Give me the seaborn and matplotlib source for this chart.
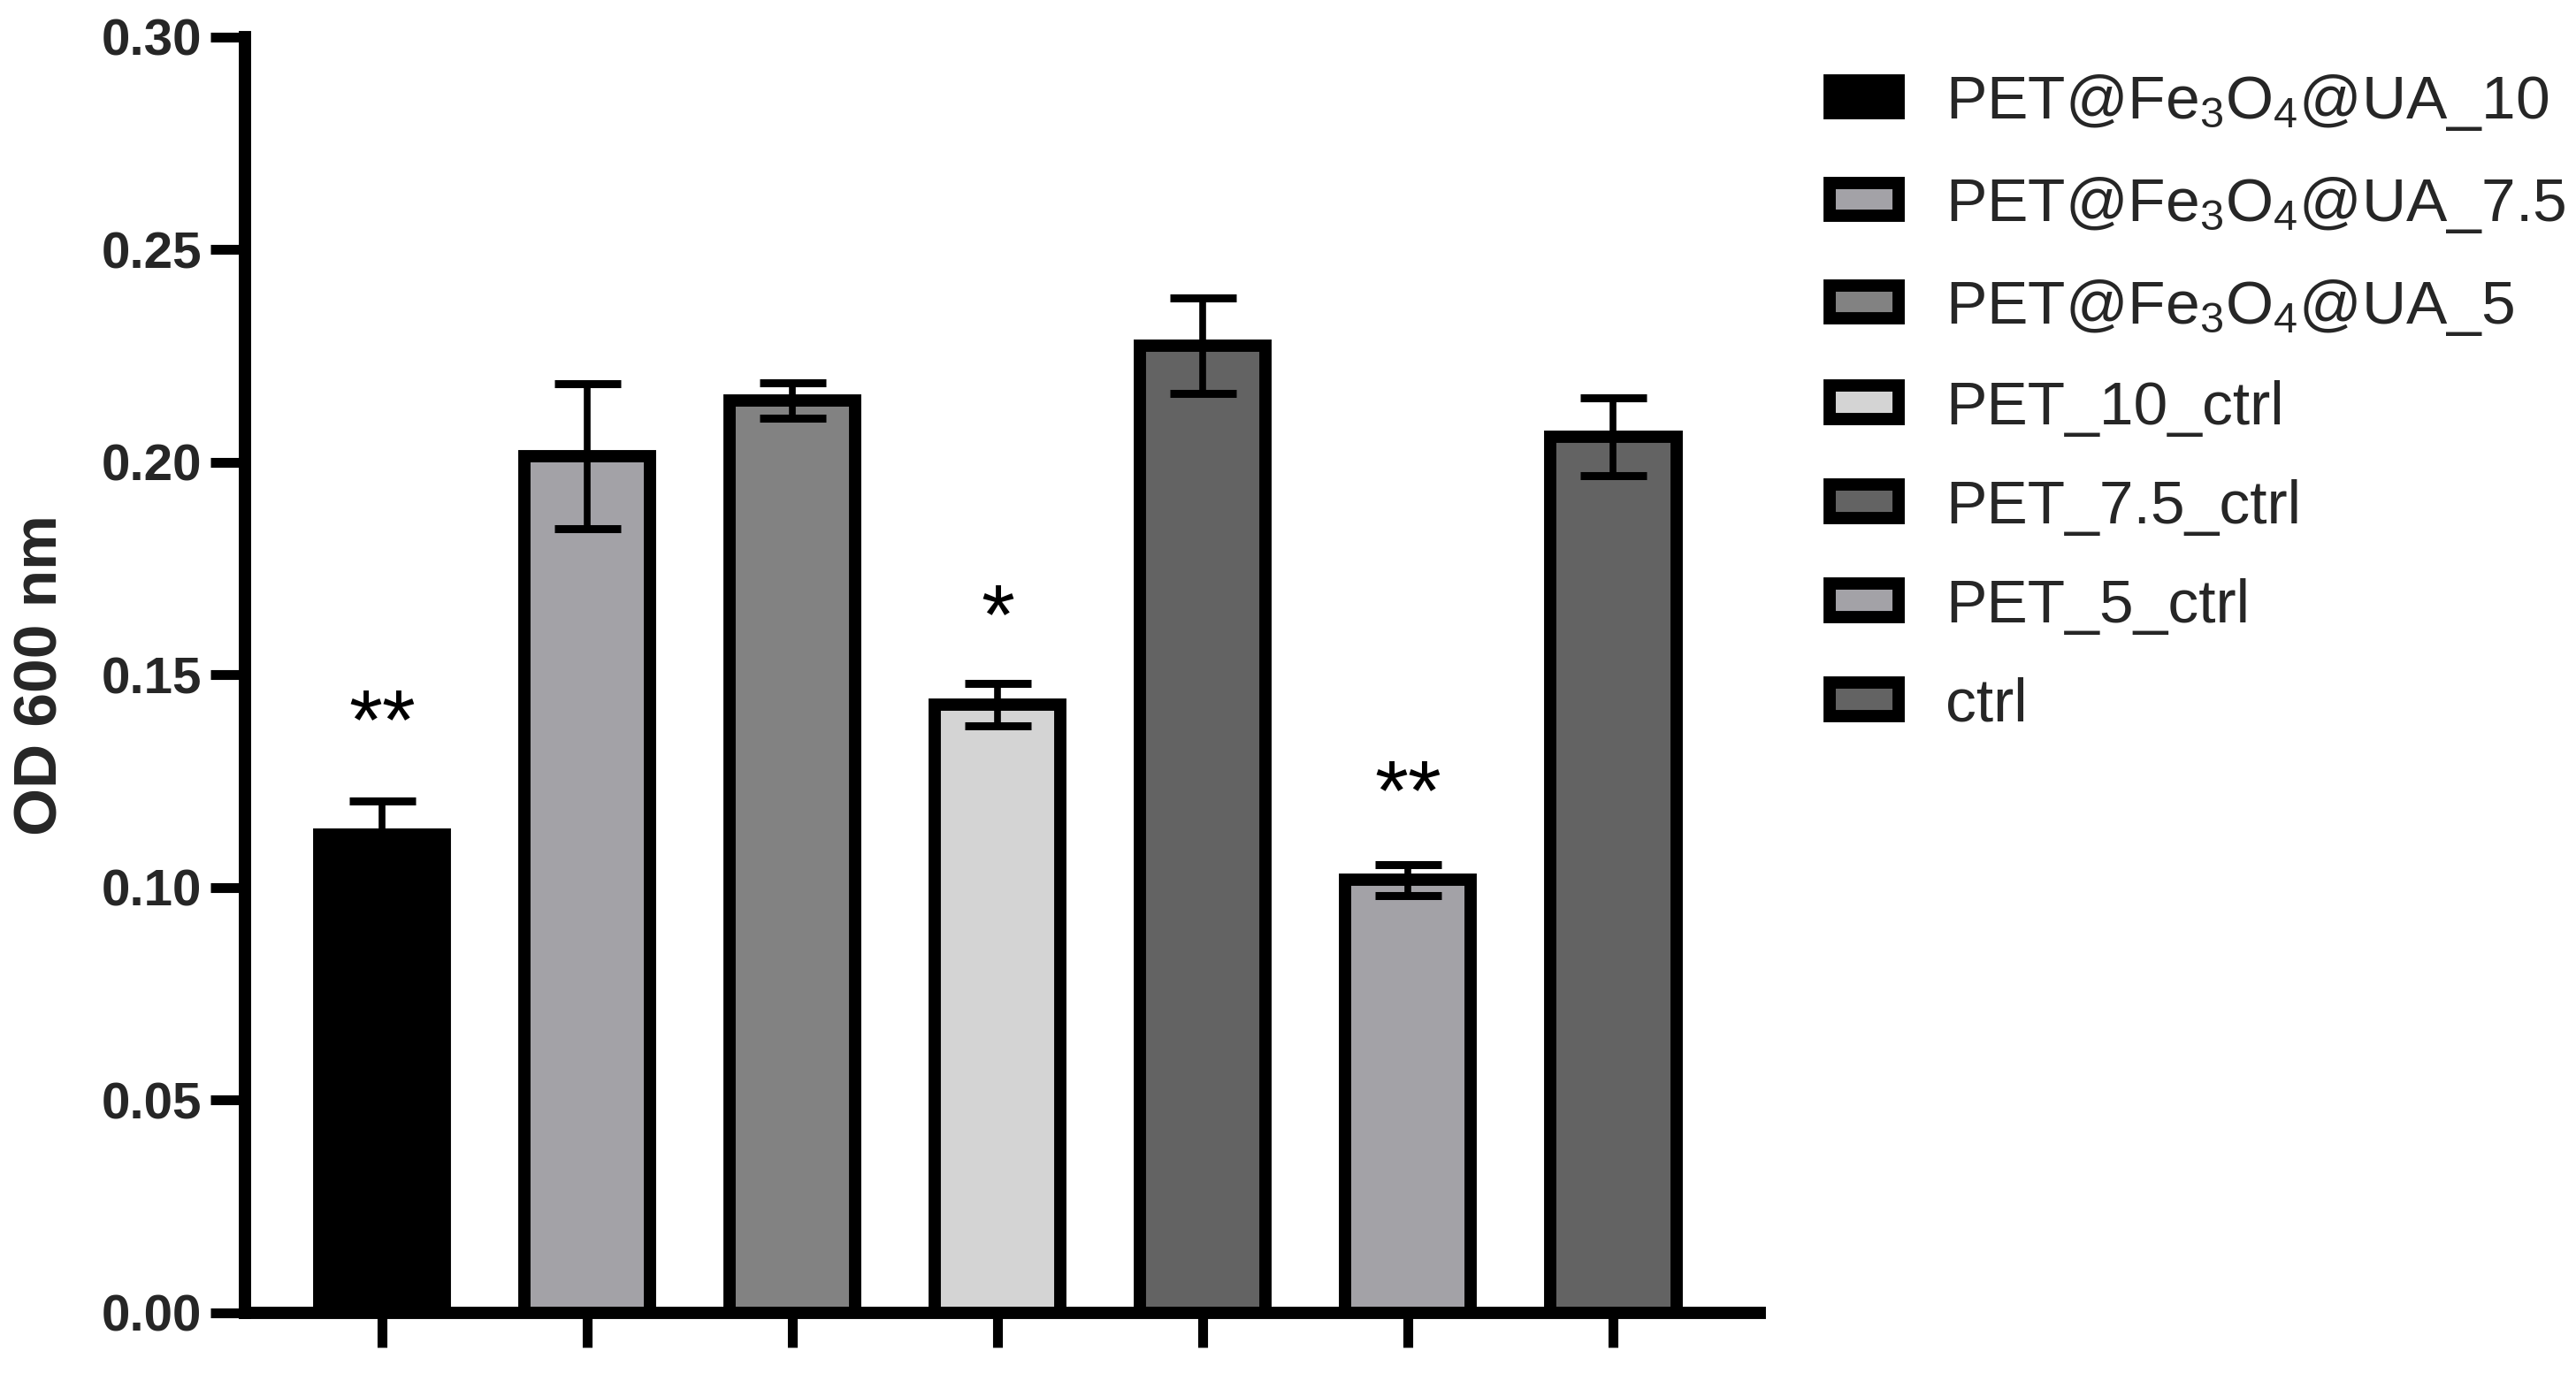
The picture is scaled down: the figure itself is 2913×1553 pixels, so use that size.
import matplotlib
matplotlib.use('Agg')
import matplotlib.pyplot as plt
import pandas as pd
import seaborn as sns

groups = ['PET@Fe$_3$O$_4$@UA_10', 'PET@Fe$_3$O$_4$@UA_7.5', 'PET@Fe$_3$O$_4$@UA_5',
          'PET_10_ctrl', 'PET_7.5_ctrl', 'PET_5_ctrl', 'ctrl']
od_mean = [0.1125, 0.2015, 0.2145, 0.1430, 0.2275, 0.1018, 0.2060]
od_err = [0.0078, 0.0170, 0.0042, 0.0050, 0.0112, 0.0036, 0.0092]
bar_colors = ['#000000', '#A3A2A7', '#828282', '#D4D4D4', '#636363', '#A3A2A7', '#636363']
stars = ['**', '', '', '*', '', '**', '']
star_y = [0.1436, None, None, 0.1684, None, 0.1269, None]
y_ticks = [0.00, 0.05, 0.10, 0.15, 0.20, 0.25, 0.30]

sns.set_theme(style='ticks')
plt.rcParams['font.family'] = ['Liberation Sans', 'DejaVu Sans']
plt.rcParams['mathtext.fontset'] = 'custom'
plt.rcParams['mathtext.rm'] = 'Liberation Sans'
plt.rcParams['mathtext.it'] = 'Liberation Sans:italic'
plt.rcParams['mathtext.bf'] = 'Liberation Sans:bold'

df = pd.DataFrame({'group': groups, 'od': od_mean})

fig = plt.figure(figsize=(29.13, 15.53), dpi=100)
ax = fig.add_axes([0.0951, 0.0438, 0.5881, 0.9292])

sns.barplot(data=df, x='group', y='od', hue='group', order=groups, hue_order=groups,
            palette=dict(zip(groups, bar_colors)), saturation=1, width=0.616,
            edgecolor='black', linewidth=10, errorbar=None, legend=False, ax=ax)

ax.errorbar(range(len(groups)), od_mean, yerr=od_err, fmt='none', ecolor='black',
            elinewidth=5.5, capsize=27, capthick=6.5, zorder=4)

for i, (s, y) in enumerate(zip(stars, star_y)):
    if s:
        ax.annotate(s, (i, y), xytext=(0, -38), textcoords='offset points',
                    ha='center', va='baseline', fontsize=70, color='black')

ax.set_xlim(-0.668, 6.716)
ax.set_ylim(0, 0.30)
ax.set_yticks(y_ticks)
ax.set_yticklabels(['{:.2f}'.format(t) for t in y_ticks], fontsize=42, fontweight='bold')
ax.set_xticks(range(len(groups)))
ax.set_xticklabels([])
ax.set_xlabel('')
ax.set_ylabel('OD 600 nm', fontsize=50, fontweight='bold')
ax.yaxis.set_label_coords(-0.116, 0.5)

sns.despine(ax=ax)
for side in ['left', 'bottom']:
    ax.spines[side].set_linewidth(10)
    ax.spines[side].set_color('black')
ax.tick_params(axis='both', length=28, width=8, color='black', direction='out', pad=7)

handles = ax.patches[:len(groups)]
fig.legend(handles, groups, loc='upper left', bbox_to_anchor=(0.7103, 0.947),
           frameon=False, fontsize=50, handlelength=1.12, handleheight=0.46,
           handletextpad=0.77, labelspacing=0.69, borderpad=0, borderaxespad=0)

fig.savefig('out.png', dpi=100, facecolor='white')
